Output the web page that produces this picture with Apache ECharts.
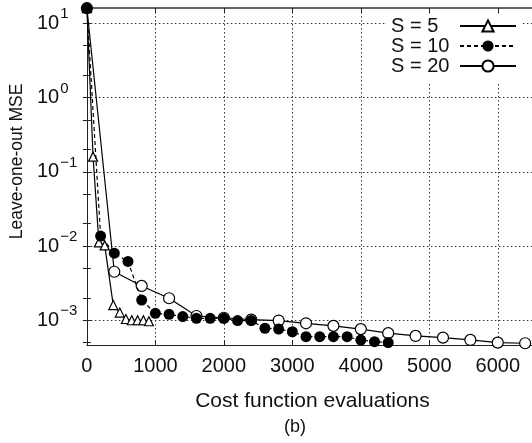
<!DOCTYPE html>
<html>
<head>
<meta charset="utf-8">
<script src="https://cdn.jsdelivr.net/npm/echarts@6/dist/echarts.min.js"></script>
<style>
  html, body { margin: 0; padding: 0; background: #fff; }
  #chart { width: 532px; height: 443px; }
</style>
</head>
<body>
<div id="chart"></div>
<script>
// Leave-one-out MSE against the number of cost function evaluations, for three swarm sizes.
const evalsS5 = [0, 90, 175, 260, 385, 480, 570, 655, 740, 825, 905];
const mseS5 = [16, 0.16, 0.0112, 0.0102, 0.0016, 0.00127, 0.00104, 0.00100, 0.00100, 0.00100, 0.00097];

const evalsS10 = [0, 200, 400, 600, 800, 1000, 1200, 1400, 1600, 1800, 2000, 2200, 2400,
                  2600, 2800, 3000, 3200, 3400, 3600, 3800, 4000, 4200, 4400];
const mseS10 = [16, 0.0136, 0.0080, 0.0062, 0.00187, 0.00124, 0.00120, 0.00112, 0.00106, 0.00106,
                0.00106, 0.00099, 0.00099, 0.00078, 0.00076, 0.00070, 0.00060, 0.00060, 0.00060,
                0.00060, 0.00054, 0.000515, 0.00050];

const evalsS20 = [0, 400, 800, 1200, 1600, 2000, 2400, 2800, 3200, 3600, 4000, 4400, 4800, 5200, 5600, 6000, 6400];
const mseS20 = [16, 0.0045, 0.0029, 0.00198, 0.00114, 0.00108, 0.00102, 0.00099, 0.00091, 0.00084,
                0.00076, 0.00067, 0.000615, 0.000583, 0.000543, 0.00050, 0.00049];

const seriesNames = ['S = 5', 'S = 10', 'S = 20'];
const xTicks = [0, 1000, 2000, 3000, 4000, 5000, 6000];
const yDecades = [1e-3, 1e-2, 1e-1, 1e0, 1e1];
const yAllTicks = [5e-4, 1e-3, 2e-3, 5e-3, 1e-2, 2e-2, 5e-2, 1e-1, 2e-1, 5e-1, 1, 2, 5, 10];

const X_MIN = 0, X_MAX = 6500;
const Y_MIN = 4.64e-4, Y_MAX = 16.1;

const FONT = '"Liberation Sans", Arial, Helvetica, sans-serif';
const INK = '#111';

const pairs = (xs, ys) => xs.map((x, i) => [x, ys[i]]);

function decadeLabel(v) {
  const e = Math.round(Math.log10(v));
  const sup = e < 0 ? '\u2212' + (-e) : String(e);
  return '{b|10}{s|' + sup + '}';
}

const chart = echarts.init(document.getElementById('chart'), null, { renderer: 'canvas' });

const dotted = { color: '#333', width: 1, type: [1.5, 2.5] };
const tickInk = { color: '#222' };

chart.setOption({
  backgroundColor: '#fff',
  animation: false,
  textStyle: { fontFamily: FONT, color: INK },
  grid: { left: 84, top: 8, width: 449, height: 337, containLabel: false },
  title: {
    text: '(b)',
    left: 279, top: 413,
    textStyle: { fontFamily: FONT, fontSize: 18, fontWeight: 'normal', color: INK }
  },
  legend: {
    data: seriesNames,
    orient: 'vertical',
    left: 387, top: 14,
    align: 'right',
    padding: [2, 4, 6, 4],
    backgroundColor: '#fff',
    itemWidth: 56, itemHeight: 14, itemGap: 0,
    formatter: name => '{n|' + name + '}',
    textStyle: {
      fontFamily: FONT, fontSize: 20, color: INK, lineHeight: 18,
      rich: { n: { fontFamily: FONT, fontSize: 20, color: INK, width: 64, align: 'left', lineHeight: 18 } }
    },
    selectedMode: false
  },
  xAxis: [{
    type: 'value', min: X_MIN, max: X_MAX, interval: 1000, position: 'bottom',
    name: 'Cost function evaluations', nameLocation: 'middle', nameGap: 46,
    nameTextStyle: { fontFamily: FONT, fontSize: 21, color: INK, padding: [0, 0, 0, 6] },
    axisLine: { show: true, lineStyle: { color: '#222', width: 1 } },
    axisTick: { show: true, inside: true, length: 5, lineStyle: tickInk },
    axisLabel: {
      fontFamily: FONT, fontSize: 20, color: INK, margin: 11,
      showMaxLabel: false,
      formatter: v => (xTicks.includes(v) ? String(v) : '')
    },
    splitLine: { show: true, lineStyle: dotted }
  }, {
    type: 'value', min: X_MIN, max: X_MAX, interval: 1000, position: 'top',
    axisLine: { show: true, lineStyle: { color: '#666', width: 2 } },
    axisTick: { show: true, inside: true, length: 5, lineStyle: tickInk },
    axisLabel: { show: false },
    splitLine: { show: false }
  }],
  yAxis: [{
    // left axis: decade labels, ticks at 1, 2 and 5 per decade
    type: 'log', logBase: 10, min: Y_MIN, max: Y_MAX, position: 'left',
    name: 'Leave-one-out MSE', nameLocation: 'middle', nameGap: 58, nameRotate: 90,
    nameTextStyle: { fontFamily: FONT, fontSize: 17.5, color: INK, padding: [0, 0, 0, 30] },
    axisLine: { show: true, lineStyle: { color: '#222', width: 1 } },
    axisTick: { show: true, inside: true, length: 4, customValues: yAllTicks, lineStyle: tickInk },
    axisLabel: {
      customValues: yDecades,
      align: 'left', margin: 50,
      formatter: decadeLabel,
      rich: {
        b: { fontFamily: FONT, fontSize: 20, color: INK },
        s: { fontFamily: FONT, fontSize: 15, color: INK, padding: [0, 0, 18, 1] }
      }
    },
    splitLine: { show: false }
  }, {
    // right frame edge with mirrored ticks
    type: 'log', logBase: 10, min: Y_MIN, max: Y_MAX, position: 'right',
    axisLine: { show: true, lineStyle: { color: '#222', width: 1 } },
    axisTick: { show: true, inside: true, length: 4, customValues: yAllTicks, lineStyle: tickInk },
    axisLabel: { show: false },
    splitLine: { show: false }
  }, {
    // decade grid lines only
    type: 'log', logBase: 10, min: Y_MIN, max: Y_MAX, position: 'left',
    axisLine: { show: false },
    axisTick: { show: false },
    axisLabel: { show: false },
    splitLine: { show: true, lineStyle: dotted }
  }],
  series: [{
    name: 'S = 20', type: 'line', xAxisIndex: 0, yAxisIndex: 0,
    data: pairs(evalsS20, mseS20),
    symbol: 'circle', symbolSize: 11, showAllSymbol: true,
    itemStyle: { color: '#fff', borderColor: '#000', borderWidth: 1.2 },
    lineStyle: { color: '#000', width: 1.2, type: 'solid' },
    z: 3
  }, {
    name: 'S = 5', type: 'line', xAxisIndex: 0, yAxisIndex: 0,
    data: pairs(evalsS5, mseS5),
    symbol: 'triangle', symbolSize: 9, showAllSymbol: true,
    itemStyle: { color: '#fff', borderColor: '#000', borderWidth: 1.2 },
    lineStyle: { color: '#000', width: 1.2, type: 'solid' },
    z: 4
  }, {
    name: 'S = 10', type: 'line', xAxisIndex: 0, yAxisIndex: 0,
    data: pairs(evalsS10, mseS10),
    symbol: 'circle', symbolSize: 11, showAllSymbol: true,
    itemStyle: { color: '#000', borderColor: '#000', borderWidth: 0 },
    lineStyle: { color: '#000', width: 1.2, type: [4, 3] },
    z: 5
  }]
});
</script>
</body>
</html>
